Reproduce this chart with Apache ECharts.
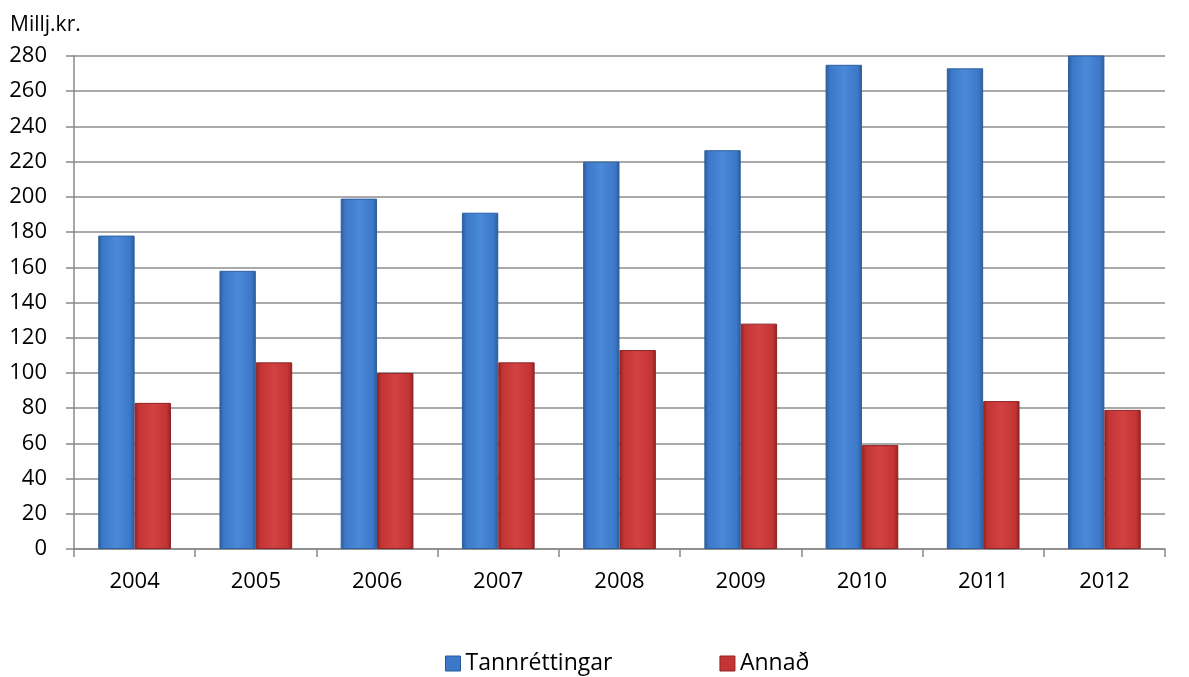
<!DOCTYPE html>
<html>
<head>
<meta charset="utf-8">
<script src="https://cdn.jsdelivr.net/npm/echarts@6/dist/echarts.min.js"></script>
<style>
html,body{margin:0;padding:0;background:#fff;}
#c{width:1189px;height:677px;}
</style>
</head>
<body>
<div id="c"></div>
<script>
const years = ['2004','2005','2006','2007','2008','2009','2010','2011','2012'];
const tannrettingar = [178, 158, 199, 191, 220, 226.5, 275, 273, 290];
const annad = [83, 106, 100, 106, 113, 128, 59, 84, 79];
const seriesNames = ['Tannréttingar', 'Annað'];
const yTicks = {min: 0, max: 280, interval: 20};

const font = '"Open Sans", "Liberation Sans", sans-serif';
function grad(dark, mid, light) {
  return new echarts.graphic.LinearGradient(0, 0, 1, 0, [
    {offset: 0, color: dark},
    {offset: 0.12, color: mid},
    {offset: 0.5, color: light},
    {offset: 0.88, color: mid},
    {offset: 1, color: dark}
  ]);
}
const blue = grad('#2b5a97', '#3c78c8', '#4a8ad8');
const red = grad('#922222', '#c33434', '#d24242');

const chart = echarts.init(document.getElementById('c'), null, {renderer: 'canvas'});
chart.setOption({
  animation: false,
  backgroundColor: '#fff',
  title: {
    text: 'Millj.kr.', left: 10, top: 15, padding: 0,
    textStyle: {fontFamily: font, fontSize: 21, fontWeight: 'normal', color: '#000'}
  },
  grid: {left: 74, right: 24, top: 56, bottom: 128, containLabel: false},
  legend: {
    top: 652, left: 445, padding: 0, itemGap: 107, itemWidth: 15, itemHeight: 15,
    icon: 'rect',
    textStyle: {fontFamily: font, fontSize: 23, color: '#000', padding: [0, 0, 0, 0]},
    data: [
      {name: seriesNames[0], itemStyle: {color: '#3c78c8', borderColor: '#2b5a97', borderWidth: 1}},
      {name: seriesNames[1], itemStyle: {color: '#c33434', borderColor: '#922222', borderWidth: 1}}
    ]
  },
  xAxis: {
    type: 'category', data: years, boundaryGap: true,
    axisLine: {lineStyle: {color: '#888', width: 1.5}},
    axisTick: {show: true, length: 8, interval: 0, lineStyle: {color: '#888', width: 1.5}},
    axisLabel: {fontFamily: font, fontSize: 22, color: '#000', margin: 22}
  },
  yAxis: {
    type: 'value', min: yTicks.min, max: yTicks.max, interval: yTicks.interval,
    axisLine: {show: true, lineStyle: {color: '#888', width: 1.5}},
    axisTick: {show: true, length: 8, lineStyle: {color: '#888', width: 1.5}},
    axisLabel: {fontFamily: font, fontSize: 22, color: '#000', margin: 27},
    splitLine: {lineStyle: {color: '#8c8c8c', width: 1.5}}
  },
  series: [
    {
      name: seriesNames[0], type: 'bar', data: tannrettingar, clip: true,
      barGap: '0%', barCategoryGap: '40%',
      itemStyle: {color: blue, borderColor: '#2f5f9f', borderWidth: 1}
    },
    {
      name: seriesNames[1], type: 'bar', data: annad, clip: true,
      itemStyle: {color: red, borderColor: '#8e2424', borderWidth: 1}
    }
  ]
});
</script>
</body>
</html>
